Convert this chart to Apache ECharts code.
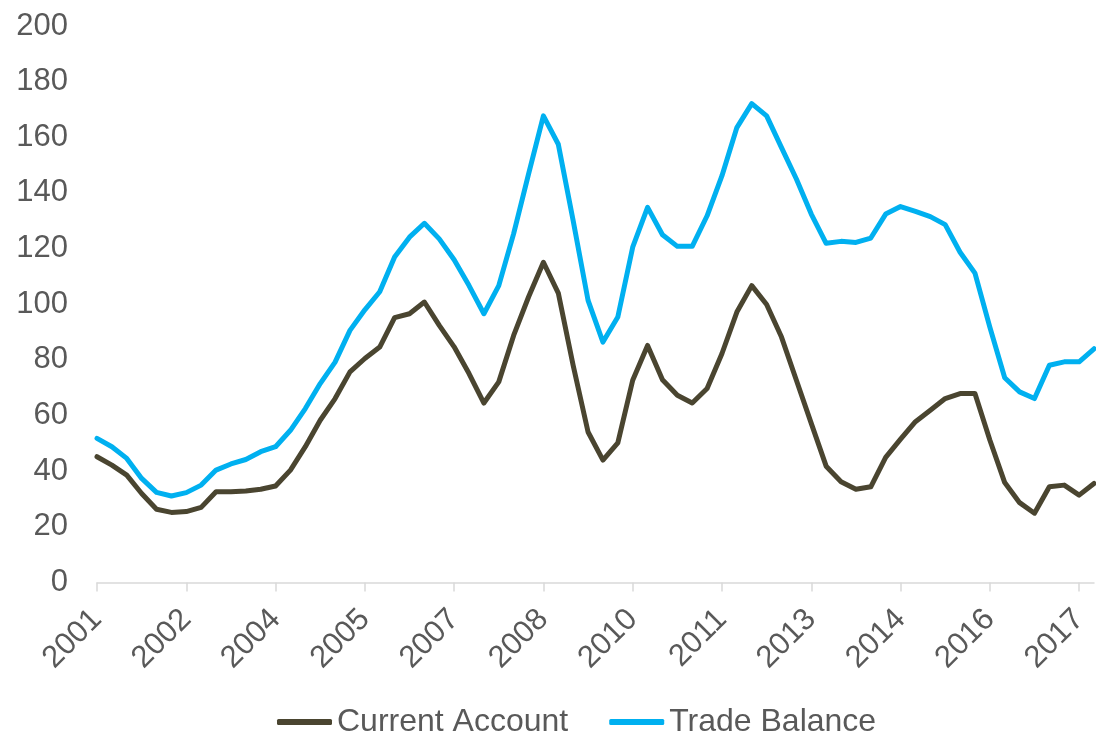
<!DOCTYPE html>
<html>
<head>
<meta charset="utf-8">
<title>Current Account and Trade Balance</title>
<script src="https://cdn.jsdelivr.net/npm/echarts@6/dist/echarts.min.js"></script>
<style>
  html, body { margin: 0; padding: 0; background: #ffffff; }
  #chart { width: 1096px; height: 739px; }
</style>
</head>
<body>
<div id="chart"></div>
<script>
// Quarterly observations, 2001 Q1 to 2017 Q4
const quarters = [
  '2001Q1','2001Q2','2001Q3','2001Q4','2002Q1','2002Q2','2002Q3','2002Q4',
  '2003Q1','2003Q2','2003Q3','2003Q4','2004Q1','2004Q2','2004Q3','2004Q4',
  '2005Q1','2005Q2','2005Q3','2005Q4','2006Q1','2006Q2','2006Q3','2006Q4',
  '2007Q1','2007Q2','2007Q3','2007Q4','2008Q1','2008Q2','2008Q3','2008Q4',
  '2009Q1','2009Q2','2009Q3','2009Q4','2010Q1','2010Q2','2010Q3','2010Q4',
  '2011Q1','2011Q2','2011Q3','2011Q4','2012Q1','2012Q2','2012Q3','2012Q4',
  '2013Q1','2013Q2','2013Q3','2013Q4','2014Q1','2014Q2','2014Q3','2014Q4',
  '2015Q1','2015Q2','2015Q3','2015Q4','2016Q1','2016Q2','2016Q3','2016Q4',
  '2017Q1','2017Q2','2017Q3','2017Q4'
];

const currentAccount = [
  45.2, 42.2, 38.6, 32.0, 26.3, 25.2, 25.5, 27.0,
  32.6, 32.6, 32.9, 33.5, 34.7, 40.4, 48.8, 58.3,
  66.1, 75.7, 80.5, 84.6, 95.2, 96.6, 100.8, 92.4,
  84.7, 75.1, 64.5, 72.1, 88.8, 102.6, 115.1, 104.0,
  78.0, 54.1, 44.0, 50.2, 72.7, 85.2, 72.9, 67.3,
  64.5, 69.7, 82.3, 97.2, 106.7, 99.9, 88.2, 72.7,
  57.2, 41.8, 36.2, 33.5, 34.4, 45.0, 51.5, 57.8,
  61.9, 66.1, 67.9, 67.9, 51.2, 35.9, 28.7, 24.9,
  34.4, 35.0, 31.4, 35.6
];

const tradeBalance = [
  51.8, 48.8, 44.6, 37.4, 32.4, 31.1, 32.3, 35.0,
  40.4, 42.6, 44.2, 47.0, 48.8, 54.7, 62.5, 71.5,
  79.2, 90.6, 98.0, 104.5, 117.0, 124.1, 129.1, 123.5,
  116.0, 106.7, 96.6, 106.7, 125.4, 146.8, 167.7, 157.5,
  130.0, 101.4, 86.4, 95.4, 120.5, 134.8, 125.0, 120.8,
  120.8, 131.8, 146.2, 163.5, 172.1, 167.7, 156.3, 145.0,
  132.4, 121.9, 122.6, 122.2, 123.8, 132.4, 135.1, 133.4,
  131.5, 128.6, 118.7, 111.2, 91.8, 73.6, 68.5, 66.1,
  78.1, 79.3, 79.3, 84.0
];

const seriesNames = ['Current Account', 'Trade Balance'];
const seriesColors = ['#4a4530', '#00b0f0'];

const FONT = "'Liberation Sans', Arial, sans-serif";
const TEXT_COLOR = '#595959';

const chart = echarts.init(document.getElementById('chart'), null, { renderer: 'canvas' });

chart.setOption({
  animation: false,
  backgroundColor: '#ffffff',
  grid: { left: 97, right: 2, top: 26, bottom: 156.5, containLabel: false },
  legend: {
    data: seriesNames,
    left: 277,
    top: 706,
    padding: 0,
    icon: 'roundRect',
    itemWidth: 55,
    itemHeight: 6,
    itemGap: 41,
    textStyle: { fontFamily: FONT, fontSize: 32, color: TEXT_COLOR }
  },
  xAxis: {
    type: 'category',
    data: quarters,
    boundaryGap: false,
    axisLine: { show: true, lineStyle: { color: '#d9d9d9', width: 1.5 } },
    axisTick: { show: true, interval: 5, length: 9, lineStyle: { color: '#d9d9d9', width: 1.5 } },
    axisLabel: {
      interval: 5,
      rotate: 45,
      margin: 32,
      fontFamily: FONT,
      fontSize: 31,
      color: TEXT_COLOR,
      formatter: function (v) { return v.slice(0, 4); }
    },
    splitLine: { show: false }
  },
  yAxis: {
    type: 'value',
    min: 0,
    max: 200,
    interval: 20,
    axisLine: { show: false },
    axisTick: { show: false },
    splitLine: { show: false },
    axisLabel: { margin: 29, fontFamily: FONT, fontSize: 31, color: TEXT_COLOR }
  },
  series: [
    {
      name: seriesNames[0],
      type: 'line',
      data: currentAccount,
      symbol: 'none',
      color: seriesColors[0],
      lineStyle: { width: 5, color: seriesColors[0], join: 'round', cap: 'round' }
    },
    {
      name: seriesNames[1],
      type: 'line',
      data: tradeBalance,
      symbol: 'none',
      color: seriesColors[1],
      lineStyle: { width: 5, color: seriesColors[1], join: 'round', cap: 'round' }
    }
  ]
});
</script>
</body>
</html>
